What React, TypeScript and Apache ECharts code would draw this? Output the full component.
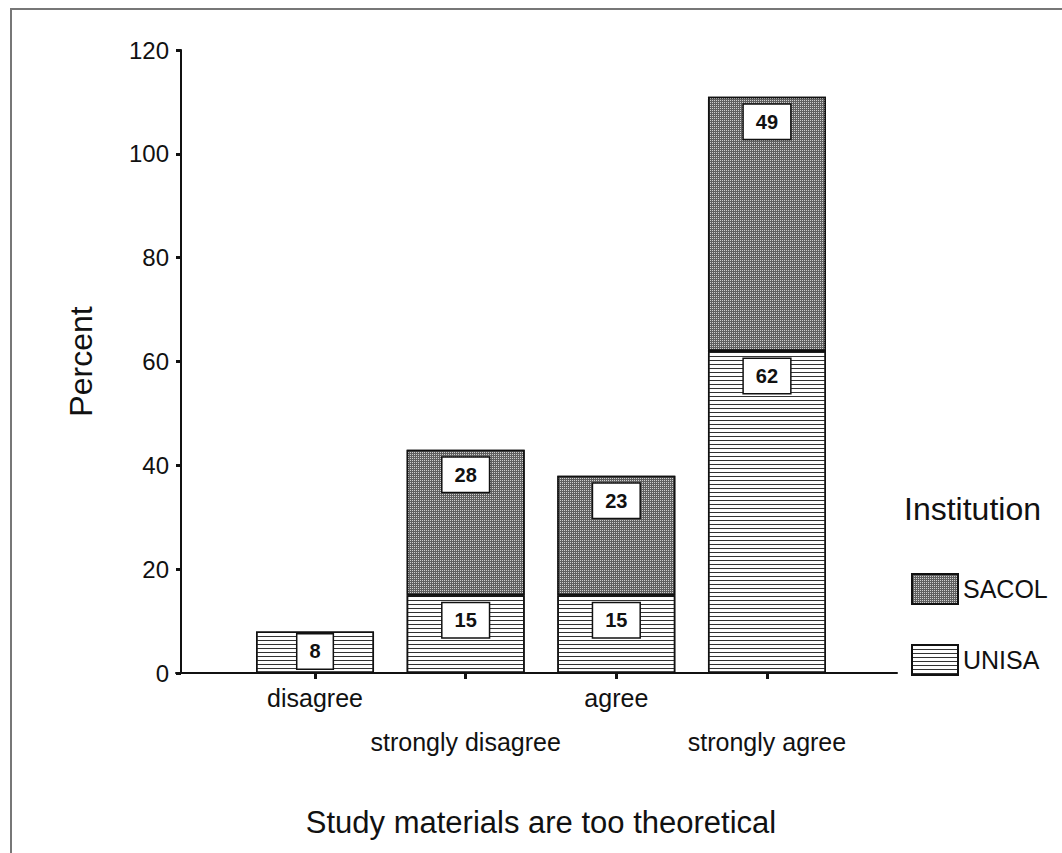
import React, { useEffect, useRef } from "react";
import * as echarts from "echarts";

// Response categories (in axis order) and stacked percentages per institution
const categories = ["disagree", "strongly disagree", "agree", "strongly agree"];
const unisaValues = [8, 15, 15, 62];
const sacolValues: (number | null)[] = [null, 28, 23, 49];
const yTicks = [0, 20, 40, 60, 80, 100, 120];

const FONT = "'Liberation Sans', Arial, Helvetica, sans-serif";
const INK = "#111";

export default function App() {
  const ref = useRef<HTMLDivElement>(null);

  useEffect(() => {
    if (!ref.current) return;
    const chart = echarts.init(ref.current, undefined, { renderer: "svg" });

    const valueLabel = {
      show: true,
      position: "insideTop",
      distance: 8,
      formatter: (p: any) => String(p.value),
      fontFamily: FONT,
      fontWeight: "bold",
      fontSize: 20,
      lineHeight: 20,
      color: INK,
      backgroundColor: "#fff",
      borderColor: INK,
      borderWidth: 1.5,
      padding: [7, 12, 7, 12],
    };

    const toData = (vals: (number | null)[]) =>
      vals.map((v) =>
        v == null
          ? null
          : {
              value: v,
              // very short bars keep their label box close to the top edge
              label: v < 10 ? { distance: 3 } : undefined,
            }
      );

    const option: any = {
      animation: false,
      backgroundColor: "#fff",
      title: {
        text: "Institution",
        left: 904,
        top: 493,
        padding: 0,
        textStyle: { fontFamily: FONT, fontSize: 32, fontWeight: "normal", color: INK },
      },
      legend: {
        data: ["SACOL", "UNISA"],
        orient: "vertical",
        left: 911,
        top: 573,
        padding: 0,
        itemWidth: 46,
        itemHeight: 30,
        itemGap: 39,
        icon: "rect",
        textStyle: { fontFamily: FONT, fontSize: 25, color: INK },
      },
      grid: [
        // bar area: four bands of ~150px
        { left: 239.7, right: 219.7, top: 50, bottom: 180, containLabel: false },
        // full-width baseline
        { left: 176, right: 165, top: 50, bottom: 180, containLabel: false },
      ],
      xAxis: [
        {
          gridIndex: 0,
          type: "category",
          data: categories,
          name: "Study materials are too theoretical",
          nameLocation: "middle",
          nameGap: 134,
          nameTextStyle: { fontFamily: FONT, fontSize: 31, color: INK },
          axisLine: { show: false },
          axisTick: {
            show: true,
            alignWithLabel: true,
            length: 6,
            lineStyle: { color: INK, width: 3 },
          },
          axisLabel: {
            interval: 0,
            margin: 14,
            fontFamily: FONT,
            fontSize: 25,
            color: INK,
            lineHeight: 22,
            formatter: (v: string, i: number) => (i % 2 === 1 ? "\n\n" + v : v),
          },
          splitLine: { show: false },
        },
        {
          gridIndex: 1,
          type: "value",
          min: 0,
          max: 1,
          axisLine: { show: true, onZero: false, lineStyle: { color: INK, width: 2 } },
          axisTick: { show: false },
          axisLabel: { show: false },
          splitLine: { show: false },
        },
      ],
      yAxis: [
        {
          gridIndex: 0,
          type: "value",
          min: 0,
          max: 120,
          interval: 20,
          offset: 58.7,
          name: "Percent",
          nameLocation: "middle",
          nameGap: 84,
          nameTextStyle: { fontFamily: FONT, fontSize: 32, color: INK },
          splitLine: { show: false },
          axisLine: { show: true, onZero: false, lineStyle: { color: INK, width: 2 } },
          axisTick: { show: true, length: 5, lineStyle: { color: INK, width: 3 } },
          axisLabel: {
            margin: 12,
            fontFamily: FONT,
            fontSize: 24,
            color: INK,
            formatter: (v: number) => (yTicks.includes(v) ? String(v) : ""),
          },
        },
        {
          gridIndex: 1,
          type: "value",
          min: 0,
          max: 1,
          show: false,
        },
      ],
      series: [
        {
          name: "UNISA",
          type: "bar",
          xAxisIndex: 0,
          yAxisIndex: 0,
          stack: "total",
          barWidth: 118,
          data: toData(unisaValues),
          itemStyle: {
            color: "#fff",
            borderColor: INK,
            borderWidth: 1.5,
            decal: {
              symbol: "rect",
              symbolSize: 1,
              color: "#333",
              dashArrayX: [1, 0],
              dashArrayY: [1, 3],
              rotation: 0,
            },
          },
          label: valueLabel,
        },
        {
          name: "SACOL",
          type: "bar",
          xAxisIndex: 0,
          yAxisIndex: 0,
          stack: "total",
          barWidth: 118,
          data: toData(sacolValues),
          itemStyle: {
            color: "#606060",
            borderColor: INK,
            borderWidth: 1.5,
            decal: {
              symbol: "rect",
              symbolSize: 1,
              color: "#d0d0d0",
              dashArrayX: [1, 1],
              dashArrayY: [1, 1],
              rotation: 0,
            },
          },
          label: valueLabel,
        },
      ],
      graphic: [
        {
          type: "rect",
          shape: { x: 11, y: 9, width: 1200, height: 1000 },
          style: { fill: "none", stroke: "#777", lineWidth: 2 },
          silent: true,
        },
      ],
    };

    chart.setOption(option);
    return () => chart.dispose();
  }, []);

  return (
    <div
      ref={ref}
      style={{ position: "fixed", left: 0, top: 0, width: 1062, height: 853 }}
    />
  );
}
